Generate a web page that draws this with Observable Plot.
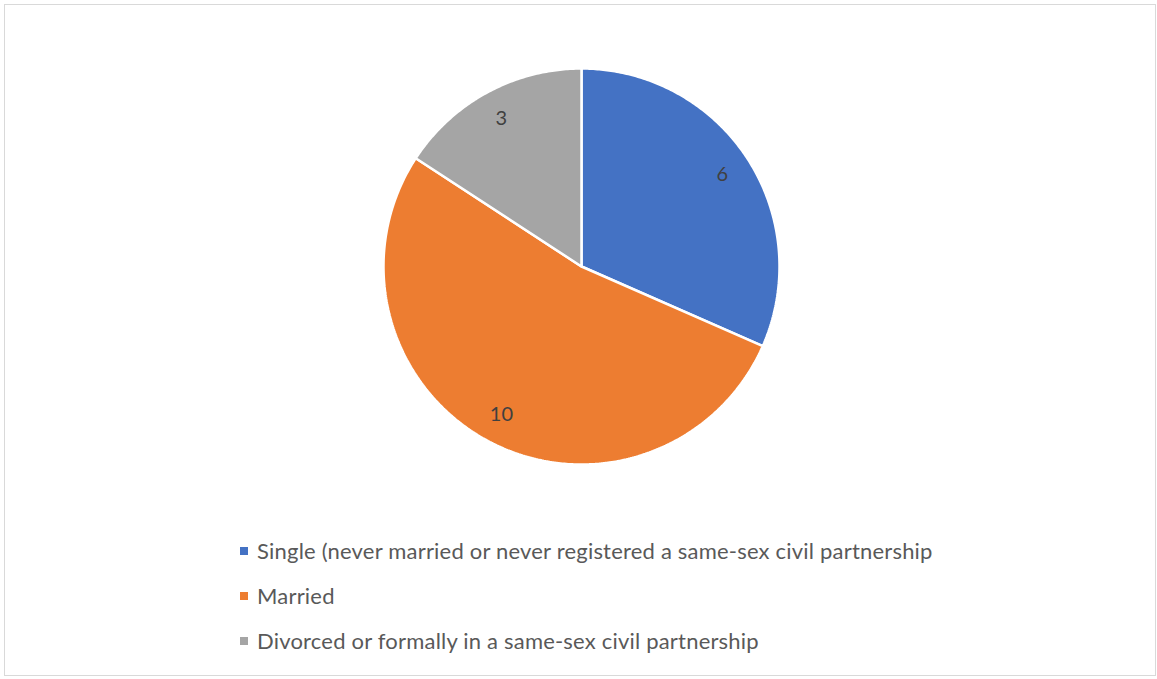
<!DOCTYPE html>
<html>
<head>
<meta charset="utf-8">
<script src="https://cdn.jsdelivr.net/npm/d3@7"></script>
<script src="https://cdn.jsdelivr.net/npm/@observablehq/plot@0.6"></script>
<style>
  html, body { margin: 0; padding: 0; background: #fff; }
  body { width: 1157px; height: 679px; position: relative; overflow: hidden; font-family: Lato, "Open Sans", sans-serif; }
  #frame { position: absolute; left: 4px; top: 4px; width: 1152px; height: 672px; box-sizing: border-box; border: 1.5px solid #d9d9d9; }
  #chart { position: absolute; left: 0; top: 0; }
  #legend { position: absolute; left: 240px; top: 528px; }
  .item { height: 45px; display: flex; align-items: center; font-size: 22px; letter-spacing: 0.2px; color: #595959; white-space: nowrap; }
  .sw { width: 8px; height: 8px; margin-right: 9px; flex: none; }
</style>
</head>
<body>
<div id="frame"></div>
<div id="chart"></div>
<div id="legend"></div>
<script>
const categories = [
  "Single (never married or never registered a same-sex civil partnership",
  "Married",
  "Divorced or formally in a same-sex civil partnership"
];
const values = [6, 10, 3];
const colors = ["#4472C4", "#ED7D31", "#A5A5A5"];

const W = 1157, H = 520, cx = 581, cy = 266, R = 198;

const data = categories.map((c, i) => ({category: c, value: values[i], color: colors[i]}));
const arcs = d3.pie().value(d => d.value).sort(null)(data);

// slice outlines in unit coordinates (angle measured clockwise from 12 o'clock)
const pts = [];
arcs.forEach(a => {
  const n = Math.max(2, Math.ceil((a.endAngle - a.startAngle) / 0.01));
  pts.push({category: a.data.category, x: 0, y: 0});
  for (let k = 0; k <= n; k++) {
    const t = a.startAngle + (a.endAngle - a.startAngle) * k / n;
    pts.push({category: a.data.category, x: Math.sin(t), y: Math.cos(t)});
  }
  pts.push({category: a.data.category, x: 0, y: 0});
});
const labels = arcs.map(a => {
  const m = (a.startAngle + a.endAngle) / 2, d = 0.85;
  return {label: String(a.data.value), x: d * Math.sin(m), y: d * Math.cos(m)};
});

const plot = Plot.plot({
  width: W, height: H,
  margin: 0,
  x: {domain: [-cx / R, (W - cx) / R], range: [0, W], axis: null},
  y: {domain: [-(H - cy) / R, cy / R], range: [H, 0], axis: null},
  color: {domain: categories, range: colors},
  marks: [
    Plot.line(pts, {x: "x", y: "y", z: "category", fill: "category", stroke: "#fff", strokeWidth: 2.5, strokeLinejoin: "miter", curve: "linear"}),
    Plot.text(labels, {x: "x", y: "y", text: "label", fontSize: 20, fill: "#404040", fontFamily: "Lato, 'Open Sans', sans-serif"})
  ]
});
plot.style.background = "transparent";
document.getElementById("chart").appendChild(plot);

const legend = document.getElementById("legend");
data.forEach(d => {
  const row = document.createElement("div");
  row.className = "item";
  const sw = document.createElement("span");
  sw.className = "sw";
  sw.style.background = d.color;
  const tx = document.createElement("span");
  tx.textContent = d.category;
  row.appendChild(sw);
  row.appendChild(tx);
  legend.appendChild(row);
});
</script>
</body>
</html>
